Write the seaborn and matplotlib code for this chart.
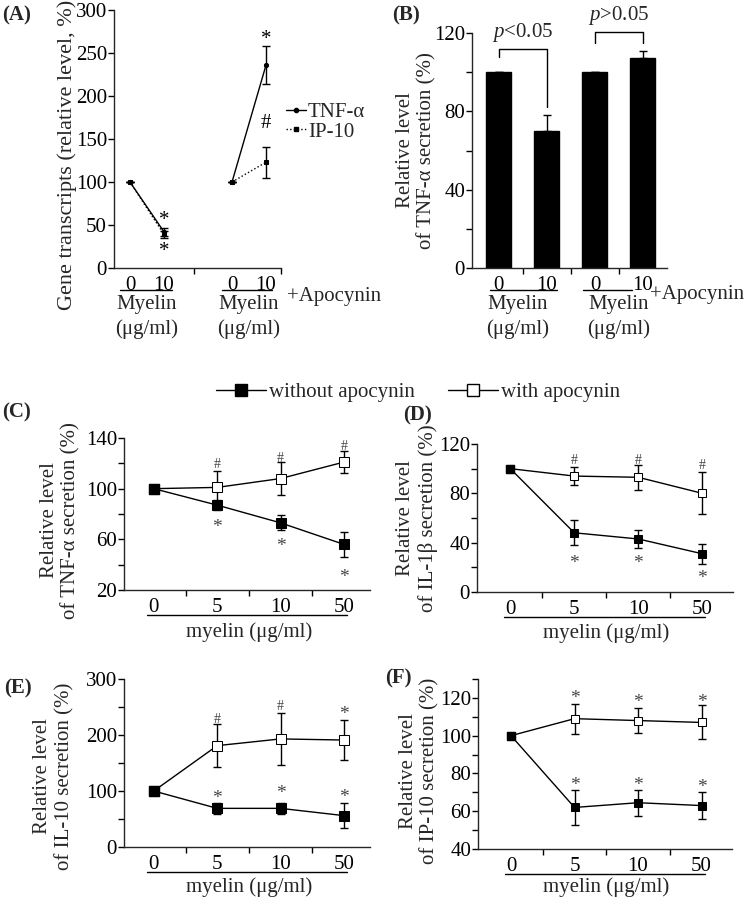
import numpy as np
import pandas as pd
import matplotlib
matplotlib.use('Agg')
import matplotlib.pyplot as plt
import seaborn as sns
from matplotlib.lines import Line2D
from matplotlib.transforms import offset_copy

# ---- data ----
# (A) gene transcripts, two groups: myelin 0/10, then +apocynin 0/10
A_POS = [0, 1, 3, 4]
A_LABELS = ['0', '10', '0', '10']
A_TNF = [100, 42, 100, 236]
A_TNF_ERR = [0, 5, 0, 22]
A_IP10 = [100, 39, 100, 123]
A_IP10_ERR = [0, 4, 0, 18]

# (B) TNF-a secretion bars
B_LABELS = ['0', '10', '0 ', '10 ']
B_VALS = [100, 70, 100, 107]
B_ERR = [0, 8, 0, 4]

# (C)-(F) dose series
DOSE_LABELS = ['0', '5', '10', '50']
DOSE_POS = [0, 1, 2, 3]
C_WITHOUT = [100, 87, 73, 56]
C_WITHOUT_ERR = [0, 4, 6, 10]
C_WITH = [100, 101, 108, 121]
C_WITH_ERR = [0, 13, 13, 9]
D_WITHOUT = [100, 48, 43, 31]
D_WITHOUT_ERR = [0, 10, 7, 8]
D_WITH = [100, 94, 93, 80]
D_WITH_ERR = [0, 7, 10, 17]
E_WITHOUT = [100, 69, 69, 56]
E_WITHOUT_ERR = [0, 10, 10, 22]
E_WITH = [100, 181, 193, 191]
E_WITH_ERR = [0, 39, 47, 36]
F_WITHOUT = [100, 62, 64.5, 63]
F_WITHOUT_ERR = [0, 9.5, 7, 7]
F_WITH = [100, 109, 108, 107]
F_WITH_ERR = [0, 8, 6.5, 9]

sns.set_style('ticks')
plt.rcParams['font.family'] = ['Liberation Serif', 'DejaVu Serif']
plt.rcParams['font.size'] = 15
plt.rcParams['mathtext.fontset'] = 'custom'
plt.rcParams['mathtext.it'] = 'Liberation Serif:italic'
plt.rcParams['mathtext.rm'] = 'Liberation Serif'
plt.rcParams['axes.linewidth'] = 1
plt.rcParams['xtick.color'] = 'black'
plt.rcParams['ytick.color'] = 'black'

W, H = 749, 899
fig = plt.figure(figsize=(W / 100, H / 100), dpi=100)


def add_ax(x0, x1, ytop, ybot):
    return fig.add_axes([x0 / W, 1 - ybot / H, (x1 - x0) / W, (ybot - ytop) / H])


def below(ax, px):
    # x in data, y = px pixels below the x axis
    return offset_copy(ax.get_xaxis_transform(), fig=fig, y=-px, units='dots')


def underline(ax, x0, x1, px):
    ax.add_line(Line2D([x0, x1], [0, 0], transform=below(ax, px), color='black',
                       lw=1, clip_on=False))


def style_axis(ax, ylim, yticks, yminor, xlim, xpos, xlabels, xminor):
    ax.set_ylim(*ylim)
    ax.set_yticks(yticks)
    ax.set_yticks(yminor, minor=True)
    ax.set_xlim(*xlim)
    ax.set_xticks(xpos)
    ax.set_xticklabels(xlabels)
    ax.set_xticks(xminor, minor=True)
    ax.tick_params(axis='x', which='major', length=0, pad=6, labelsize=15)
    ax.tick_params(axis='x', which='minor', length=4, width=1, direction='out')
    ax.tick_params(axis='y', which='both', length=4, width=1, direction='out',
                   pad=1, labelsize=15)
    ax.set_xlabel('')
    sns.despine(ax=ax)


def set_ylab(ax, text, x, y=0.5, size=15):
    ax.set_ylabel(text, fontsize=size)
    ax.yaxis.set_label_coords(x, y)


def dose_panel(ax, without, without_err, with_, with_err, ms=7, lab_px=41):
    ax.errorbar(DOSE_POS, without, yerr=without_err, fmt='none', ecolor='black',
                elinewidth=1, capsize=3, capthick=1, zorder=2)
    ax.errorbar(DOSE_POS, with_, yerr=with_err, fmt='none', ecolor='black',
                elinewidth=1, capsize=3, capthick=1, zorder=2)
    sns.lineplot(x=DOSE_POS, y=without, ax=ax, color='black', lw=1, marker='s',
                 markersize=ms, markerfacecolor='black', markeredgecolor='black', zorder=3)
    sns.lineplot(x=DOSE_POS, y=with_, ax=ax, color='black', lw=1, marker='s',
                 markersize=ms, markerfacecolor='white', markeredgecolor='black', zorder=4)
    # the 0 dose is shared, draw it filled on top
    ax.plot([0], [without[0]], marker='s', ms=ms, color='black', zorder=5)
    underline(ax, -0.1, 3.05, 25)
    ax.text(1.5, 0, 'myelin (\u03bcg/ml)', transform=below(ax, lab_px),
            ha='center', va='center')


def marks(ax, xs, ys, s, size=14, color='#444444', dy=-5):
    tr = offset_copy(ax.transData, fig=fig, y=dy, units='dots')
    for x, y in zip(xs, ys):
        ax.text(x, y, s, ha='center', va='center', fontsize=size, color=color,
                transform=tr)


# ---- (A) ----
axA = add_ax(114, 281, 10, 268)
for g in (slice(0, 2), slice(2, 4)):
    axA.errorbar(A_POS[g], A_TNF[g], yerr=A_TNF_ERR[g], fmt='none', ecolor='black',
                 elinewidth=1, capsize=3, zorder=2)
    axA.errorbar(A_POS[g], A_IP10[g], yerr=A_IP10_ERR[g], fmt='none', ecolor='black',
                 elinewidth=1, capsize=3, zorder=2)
    sns.lineplot(x=A_POS[g], y=A_IP10[g], ax=axA, color='black', lw=1, linestyle=':',
                 marker='s', markersize=3.5, markeredgecolor='black', zorder=3)
    sns.lineplot(x=A_POS[g], y=A_TNF[g], ax=axA, color='black', lw=1, linestyle='-',
                 marker='o', markersize=3, markeredgecolor='black', zorder=4)
marks(axA, [1, 1, 4], [61, 25, 272], '*', size=15, color='black')
marks(axA, [4], [174], '#', size=15, color='black')
style_axis(axA, (0, 300), [0, 50, 100, 150, 200, 250, 300], [], (-0.47, 4.44),
           A_POS, A_LABELS, [1.88, 4.44])
set_ylab(axA, 'Gene transcripts (relative level, %)', -0.222, 0.438, size=16)
for x0, x1, xc in ((-0.29, 1.24, 0.5), (2.7, 4.18, 3.5)):
    underline(axA, x0, x1, 22)
    axA.text(xc, 0, 'Myelin', transform=below(axA, 37), ha='center', va='center')
    axA.text(xc, 0, '(\u03bcg/ml)', transform=below(axA, 61), ha='center', va='center')
axA.text(4.62, 0, '+Apocynin', transform=below(axA, 29), ha='left', va='center')
legA = [Line2D([], [], color='black', lw=1, marker='o', ms=3, label='TNF-\u03b1'),
        Line2D([], [], color='black', lw=1, ls=':', marker='s', ms=3.5, label='IP-10')]
axA.legend(handles=legA, loc='center left', bbox_to_anchor=(1.03, 0.566), frameon=False,
           handlelength=0.95, handletextpad=0.1, labelspacing=0.0, borderaxespad=0,
           borderpad=0, fontsize=15)

# ---- (B) ----
axB = add_ax(472, 667, 33, 268)
dfB = pd.DataFrame({'cond': B_LABELS, 'value': B_VALS})
sns.barplot(data=dfB, x='cond', y='value', ax=axB, color='black', width=0.52,
            saturation=1, edgecolor='black', errorbar=None)
axB.errorbar([0, 1, 2, 3], B_VALS, yerr=[[0, 0, 0, 0], B_ERR], fmt='none',
             ecolor='black', elinewidth=1, capsize=3, zorder=3)
style_axis(axB, (0, 120), [0, 40, 80, 120], [20, 60, 100], (-0.56, 3.5),
           [0, 1, 2, 3], ['0', '10', '0', '10'], [0.5, 1.5, 2.5])
set_ylab(axB, 'Relative level\nof TNF-\u03b1 secretion (%)', -0.18)
for xs, ys in (([0, 0, 1, 1], [108, 112, 112, 82]), ([2, 2, 3, 3], [115, 120.5, 120.5, 115])):
    axB.add_line(Line2D(xs, ys, color='black', lw=1, clip_on=False))
axB.text(0.5, 120, r'$\it{p}$<0.05', ha='center', va='center', fontsize=15)
axB.text(2.5, 129, r'$\it{p}$>0.05', ha='center', va='center', fontsize=15, clip_on=False)
for x0, x1, xc in ((-0.19, 1.21, 0.4), (1.75, 2.77, 2.5)):
    underline(axB, x0, x1, 22)
    axB.text(xc, 0, 'Myelin', transform=below(axB, 37), ha='center', va='center')
    axB.text(xc, 0, '(\u03bcg/ml)', transform=below(axB, 61), ha='center', va='center')
axB.text(3.15, 0, '+Apocynin', transform=below(axB, 27), ha='left', va='center')

# ---- (C) ----
axC = add_ax(124, 370, 438, 590)
dose_panel(axC, C_WITHOUT, C_WITHOUT_ERR, C_WITH, C_WITH_ERR, lab_px=42)
marks(axC, [1, 2, 3], [123, 128, 137], '#', size=10)
marks(axC, [1, 2, 3], [73, 58, 34], '*')
style_axis(axC, (20, 140), [20, 60, 100, 140], [40, 80, 120], (-0.47, 3.41),
           DOSE_POS, DOSE_LABELS, [0.5, 1.5, 2.5])
set_ylab(axC, 'Relative level\nof TNF-\u03b1 secretion (%)', -0.175, 0.46)

# ---- (D) ----
axD = add_ax(477, 733, 444, 592)
dose_panel(axD, D_WITHOUT, D_WITHOUT_ERR, D_WITH, D_WITH_ERR, ms=6, lab_px=41)
marks(axD, [1, 2, 3], [111, 111, 107], '#', size=10)
marks(axD, [1, 2, 3], [27, 27, 15], '*')
style_axis(axD, (0, 120), [0, 40, 80, 120], [20, 60, 100], (-0.52, 3.48),
           DOSE_POS, DOSE_LABELS, [0.5, 1.5, 2.5])
set_ylab(axD, 'Relative level\nof IL-1\u03b2 secretion (%)', -0.152)

# ---- (E) ----
axE = add_ax(124, 370, 679, 847)
dose_panel(axE, E_WITHOUT, E_WITHOUT_ERR, E_WITH, E_WITH_ERR, lab_px=40)
marks(axE, [1, 2], [236, 259], '#', size=10)
marks(axE, [3], [245], '*')
marks(axE, [1, 2, 3], [96, 105, 98], '*')
style_axis(axE, (0, 300), [0, 100, 200, 300], [50, 150, 250], (-0.47, 3.41),
           DOSE_POS, DOSE_LABELS, [0.5, 1.5, 2.5])
set_ylab(axE, 'Relative level\nof IL-10 secretion (%)', -0.203, 0.42)

# ---- (F) ----
axF = add_ax(478, 732, 679, 849)
dose_panel(axF, F_WITHOUT, F_WITHOUT_ERR, F_WITH, F_WITH_ERR, ms=6, lab_px=38)
marks(axF, [1, 2, 3], [122.5, 120, 120], '*')
marks(axF, [1, 2, 3], [76.5, 76.5, 75], '*')
style_axis(axF, (40, 130), [40, 60, 80, 100, 120], [50, 70, 90, 110, 130], (-0.52, 3.48),
           DOSE_POS, DOSE_LABELS, [0.5, 1.5, 2.5])
set_ylab(axF, 'Relative level\nof IP-10 secretion (%)', -0.15, 0.46)

# ---- shared legend for C-F ----
handles = [Line2D([], [], color='black', lw=1, marker='s', ms=8, mfc='black', mec='black'),
           Line2D([], [], color='black', lw=1, marker='s', ms=8, mfc='white', mec='black')]
fig.legend(handles, ['without apocynin', 'with apocynin'], loc='center',
           bbox_to_anchor=(418 / W, 1 - 392 / H), ncol=2, frameon=False,
           handlelength=2.4, handletextpad=0.15, columnspacing=1.6, fontsize=15)

# ---- panel labels ----
for s, x, y in (('(A)', 2, 15), ('(B)', 392, 15), ('(C)', 2, 412),
                ('(D)', 403, 415), ('(E)', 4, 688), ('(F)', 385, 678)):
    fig.text(x / W, 1 - y / H, s, fontsize=15, fontweight='bold', ha='left', va='center')

fig.savefig('out.png', dpi=100)
